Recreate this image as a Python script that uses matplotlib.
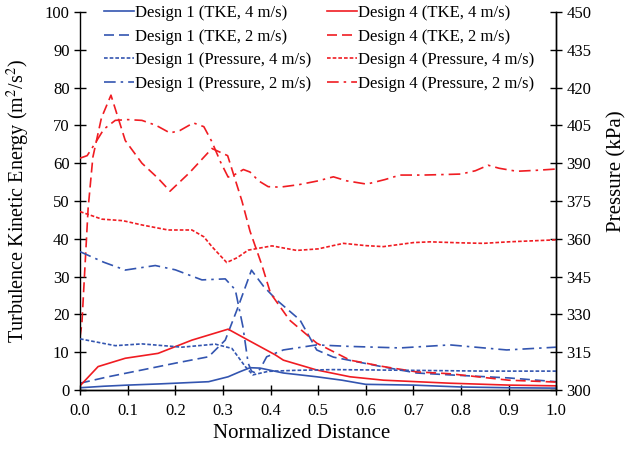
import matplotlib
matplotlib.use("Agg")
import matplotlib.pyplot as plt
from matplotlib.ticker import FormatStrFormatter

plt.rcParams['font.family'] = ['Liberation Serif', 'DejaVu Serif']
plt.rcParams['mathtext.fontset'] = 'stix'

# TKE data (m2/s2) against normalized distance
d1_tke4_x = [0, 0.05, 0.1, 0.164, 0.2, 0.27, 0.311, 0.335, 0.357, 0.378, 0.427, 0.497, 0.55, 0.6, 0.7, 0.8, 0.9, 1.0]
d1_tke4_y = [0.6, 1.0, 1.3, 1.6, 1.8, 2.2, 3.5, 4.8, 5.9, 5.8, 4.5, 3.5, 2.6, 1.5, 1.3, 0.8, 0.6, 0.5]

d1_tke2_x = [0, 0.059, 0.13, 0.2, 0.27, 0.305, 0.332, 0.36, 0.385, 0.413, 0.462, 0.497, 0.532, 0.637, 0.707, 0.777, 0.9, 1.0]
d1_tke2_y = [1.8, 3.5, 5.3, 7.1, 8.8, 13.2, 22.0, 31.7, 27.5, 23.8, 18.5, 10.6, 8.7, 6.1, 4.5, 4.0, 3.2, 2.2]

d4_tke4_x = [0, 0.038, 0.095, 0.164, 0.235, 0.311, 0.353, 0.41, 0.427, 0.497, 0.567, 0.637, 0.777, 0.9, 1.0]
d4_tke4_y = [1.1, 6.2, 8.4, 9.7, 13.2, 16.1, 13.2, 9.3, 7.9, 5.3, 3.5, 2.6, 1.8, 1.3, 1.1]

d4_tke2_x = [0, 0.004, 0.017, 0.027, 0.045, 0.065, 0.095, 0.13, 0.164, 0.189, 0.23, 0.277, 0.31, 0.34, 0.357,
             0.382, 0.4, 0.44, 0.497, 0.567, 0.637, 0.707, 0.777, 0.9, 1.0]
d4_tke2_y = [14.0, 17.7, 48.0, 61.6, 72.0, 78.0, 66.0, 60.0, 56.0, 52.6, 57.5, 63.9, 62.0, 50.0, 42.0,
             33.0, 25.6, 18.5, 12.4, 7.9, 6.2, 4.8, 4.3, 2.6, 2.1]

# pressure data (kPa)
d1_p4_x = [0, 0.074, 0.13, 0.214, 0.284, 0.319, 0.347, 0.363, 0.395, 0.45, 0.532, 0.7, 0.85, 1.0]
d1_p4_y = [320.3, 317.6, 318.3, 317.0, 318.2, 316.5, 309.3, 306.0, 307.4, 307.8, 308.1, 307.8, 307.5, 307.5]

d1_p2_x = [0, 0.05, 0.095, 0.158, 0.2, 0.256, 0.305, 0.326, 0.342, 0.353, 0.36, 0.368, 0.378, 0.392, 0.427,
           0.497, 0.567, 0.672, 0.777, 0.896, 1.0]
d1_p2_y = [354.9, 350.7, 347.6, 349.4, 347.7, 343.7, 344.1, 339.8, 325.2, 310.7, 307.5, 306.8, 308.3, 313.2, 315.9,
           317.9, 317.3, 316.7, 317.9, 315.9, 317.0]

d4_p4_x = [0, 0.046, 0.09, 0.13, 0.185, 0.235, 0.26, 0.277, 0.308, 0.33, 0.353, 0.403, 0.455, 0.5, 0.553,
           0.6, 0.637, 0.7, 0.735, 0.8, 0.847, 0.9, 1.0]
d4_p4_y = [370.8, 367.8, 367.2, 365.5, 363.5, 363.5, 360.8, 356.9, 350.6, 352.5, 355.5, 357.2, 355.4, 356.0, 358.2,
           357.3, 356.9, 358.5, 358.8, 358.4, 358.2, 358.8, 359.6]

d4_p2_x = [0, 0.015, 0.032, 0.05, 0.074, 0.1, 0.13, 0.16, 0.189, 0.21, 0.238, 0.26, 0.277, 0.295, 0.311, 0.325,
           0.343, 0.357, 0.375, 0.395, 0.42, 0.46, 0.5, 0.532, 0.56, 0.602, 0.64, 0.672, 0.72, 0.763, 0.8,
           0.83, 0.857, 0.88, 0.917, 0.96, 1.0]
d4_p2_y = [392.0, 393.0, 398.0, 403.5, 407.0, 407.3, 407.0, 405.0, 402.0, 403.0, 406.0, 404.5, 398.5, 390.5, 384.5,
           385.5, 387.5, 386.5, 383.0, 380.7, 380.5, 381.5, 383.0, 384.6, 383.0, 381.7, 383.5, 385.3, 385.3, 385.5,
           385.7, 387.0, 389.2, 388.0, 386.8, 387.2, 387.7]

x_ticks = [0.0, 0.1, 0.2, 0.3, 0.4, 0.5, 0.6, 0.7, 0.8, 0.9, 1.0]
tke_ticks = [0, 10, 20, 30, 40, 50, 60, 70, 80, 90, 100]
p_ticks = [300, 315, 330, 345, 360, 375, 390, 405, 420, 435, 450]

blue = '#3355b0'
red = '#f01c22'
lw = 1.2
solid = '-'
dashed = (0, (6, 3))
dotted = (0, (2.2, 1.2))
dashdot = (0, (7, 3, 1.5, 3))

fig = plt.figure(figsize=(6.35, 4.5), dpi=100)
ax1 = fig.add_axes([0.126, 0.1333, 0.750, 0.840])
ax2 = ax1.twinx()

h1, = ax1.plot(d1_tke4_x, d1_tke4_y, color=blue, lw=lw, linestyle=solid, label='Design 1 (TKE, 4 m/s)')
h2, = ax1.plot(d1_tke2_x, d1_tke2_y, color=blue, lw=lw, linestyle=dashed, label='Design 1 (TKE, 2 m/s)')
h5, = ax1.plot(d4_tke4_x, d4_tke4_y, color=red, lw=lw, linestyle=solid, label='Design 4 (TKE, 4 m/s)')
h6, = ax1.plot(d4_tke2_x, d4_tke2_y, color=red, lw=lw, linestyle=dashed, label='Design 4 (TKE, 2 m/s)')
h3, = ax2.plot(d1_p4_x, d1_p4_y, color=blue, lw=lw, linestyle=dotted, label='Design 1 (Pressure, 4 m/s)')
h4, = ax2.plot(d1_p2_x, d1_p2_y, color=blue, lw=lw, linestyle=dashdot, label='Design 1 (Pressure, 2 m/s)')
h7, = ax2.plot(d4_p4_x, d4_p4_y, color=red, lw=lw, linestyle=dotted, label='Design 4 (Pressure, 4 m/s)')
h8, = ax2.plot(d4_p2_x, d4_p2_y, color=red, lw=lw, linestyle=dashdot, label='Design 4 (Pressure, 2 m/s)')

ax1.set_xlim(0, 1)
ax1.set_ylim(0, 100)
ax2.set_ylim(300, 450)
ax1.set_xticks(x_ticks)
ax1.set_yticks(tke_ticks)
ax2.set_yticks(p_ticks)
ax1.xaxis.set_major_formatter(FormatStrFormatter('%.1f'))

for ax in (ax1, ax2):
    ax.spines['top'].set_visible(False)
    for s in ax.spines.values():
        s.set_linewidth(1.0)
ax2.spines['left'].set_visible(False)

ax1.tick_params(axis='y', direction='inout', length=9, width=1, labelsize=12, pad=3)
ax1.tick_params(axis='x', direction='inout', length=7, width=1, labelsize=12, pad=6)
ax2.tick_params(axis='y', direction='inout', length=9, width=1, labelsize=12, pad=3)

ax1.set_xlabel('Normalized Distance', fontsize=15)
ax1.xaxis.set_label_coords(0.466, -0.09)
ax1.set_ylabel('Turbulence Kinetic Energy (m$^2$/s$^2$)', fontsize=14.5)
ax1.yaxis.set_label_coords(-0.1, 0.5)
ax2.set_ylabel('Pressure (kPa)', fontsize=15)
ax2.yaxis.set_label_coords(1.107, 0.58)

handles = [h1, h2, h3, h4, h5, h6, h7, h8]
ax2.legend(handles=handles, ncol=2, loc='upper left', bbox_to_anchor=(0.162, 0.99),
           bbox_transform=fig.transFigure, frameon=False, fontsize=12,
           handlelength=1.8, handletextpad=0.1, columnspacing=0.9,
           labelspacing=0.45, borderaxespad=0, borderpad=0.05)

fig.savefig('out.png', dpi=100)
